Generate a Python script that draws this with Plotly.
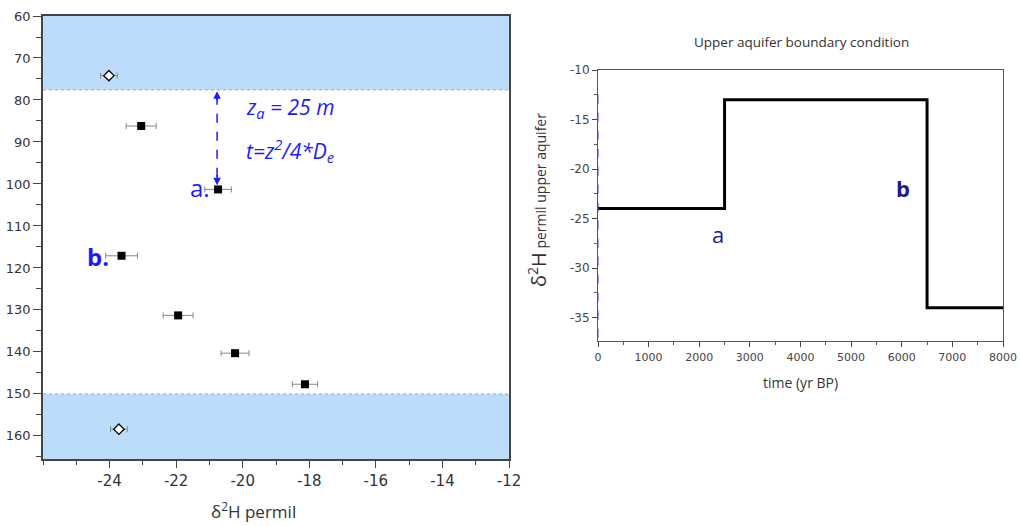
import plotly.graph_objects as go

# ---- Left panel data ----
sq_x = [-23.05, -20.74, -23.64, -21.94, -20.23, -18.13]
sq_depth = [86.2, 101.3, 117.1, 131.3, 140.3, 147.7]
sq_err = [0.45, 0.40, 0.48, 0.45, 0.42, 0.38]
dia_x = [-24.02, -23.72]
dia_depth = [74.2, 158.4]
dia_err = [0.25, 0.25]
band_top = [60, 77.6]
band_bottom = [150.0, 165.5]
left_xticks = [-24, -22, -20, -18, -16, -14, -12]
left_xticktext = ["-24", "-22", "-20", "-18", "-16", "-14", "-12"]
left_yticks = [60, 70, 80, 90, 100, 110, 120, 130, 140, 150, 160]

# ---- Right panel data ----
time_bp = [0, 2500, 6500, 8000]
d2h_upper = [-24, -13, -34, -34]
right_xticks = [0, 1000, 2000, 3000, 4000, 5000, 6000, 7000, 8000]
right_yticks = [-10, -15, -20, -25, -30, -35]
right_yticktext = ["-10", "-15", "-20", "-25", "-30", "-35"]

TICKFONT = dict(family="DejaVu Sans", size=13, color="#333")
BLUE = "#1a1aff"
NAVY = "#1c1c8c"

fig = go.Figure()

fig.add_trace(go.Scatter(
    x=sq_x, y=sq_depth, mode="markers",
    marker=dict(symbol="square", size=8, color="black"),
    error_x=dict(type="data", array=sq_err, color="#888", thickness=1, width=3),
    xaxis="x", yaxis="y", showlegend=False))
fig.add_trace(go.Scatter(
    x=dia_x, y=dia_depth, mode="markers",
    marker=dict(symbol="diamond", size=8, color="white", line=dict(color="black", width=1.3)),
    error_x=dict(type="data", array=dia_err, color="#888", thickness=1, width=3),
    xaxis="x", yaxis="y", showlegend=False))

fig.add_trace(go.Scatter(
    x=time_bp, y=d2h_upper, mode="lines", line=dict(color="black", width=3, shape="hv"),
    xaxis="x2", yaxis="y2", showlegend=False))

shapes = []
for y0, y1 in [band_top, band_bottom]:
    shapes.append(dict(type="rect", xref="x domain", yref="y", x0=0, x1=1, y0=y0, y1=y1,
                       fillcolor="#bcdcfb", line=dict(width=0), layer="below"))
shapes.append(dict(type="line", xref="x domain", yref="y", x0=0, x1=1, y0=band_top[1], y1=band_top[1],
                   line=dict(color="#aaa", width=1, dash="dot")))
shapes.append(dict(type="line", xref="x domain", yref="y", x0=0, x1=1, y0=band_bottom[0], y1=band_bottom[0],
                   line=dict(color="#aaa", width=1, dash="dot")))
# dashed arrow shaft
shapes.append(dict(type="line", xref="x", yref="y", x0=-20.77, x1=-20.77, y0=79.0, y1=99.0,
                   line=dict(color=BLUE, width=1.5, dash="dash")))
# blue dashed overlay on right y axis
shapes.append(dict(type="line", xref="x2", yref="y2", x0=0, x1=0, y0=-12.5, y1=-37.4,
                   line=dict(color="#3a3aff", width=1, dash="dash")))
fig.update_layout(shapes=shapes)

ann = []
ann.append(dict(x=-20.77, y=77.9, ax=-20.77, ay=80.5, xref="x", yref="y", axref="x", ayref="y",
                text="", showarrow=True, arrowhead=2, arrowsize=1, arrowwidth=1.5, arrowcolor=BLUE))
ann.append(dict(x=-20.77, y=100.3, ax=-20.77, ay=97.5, xref="x", yref="y", axref="x", ayref="y",
                text="", showarrow=True, arrowhead=2, arrowsize=1, arrowwidth=1.5, arrowcolor=BLUE))
ann.append(dict(x=-19.95, y=82.0, xref="x", yref="y", xanchor="left", yanchor="middle", showarrow=False,
                text="<i>z<sub>a</sub> = 25 m</i>", font=dict(family="Open Sans", size=21, color=BLUE)))
ann.append(dict(x=-19.95, y=92.0, xref="x", yref="y", xanchor="left", yanchor="middle", showarrow=False,
                text="<i>t=z<sup>2</sup>/4*D<sub>e</sub></i>", font=dict(family="Open Sans", size=21, color=BLUE)))
ann.append(dict(x=-20.93, y=100.8, xref="x", yref="y", xanchor="right", yanchor="middle", showarrow=False,
                text="a.", font=dict(family="Open Sans", size=24, color=BLUE)))
ann.append(dict(x=-23.97, y=117.3, xref="x", yref="y", xanchor="right", yanchor="middle", showarrow=False,
                text="<b>b.</b>", font=dict(family="Open Sans", size=24, color=BLUE)))
ann.append(dict(x=253 / 1020, y=(526 - 510) / 526, xref="paper", yref="paper", showarrow=False,
                xanchor="center", yanchor="middle",
                text="δ<sup>2</sup>H permil", font=dict(family="Open Sans", size=17, color="#333")))
# right panel texts
ann.append(dict(x=801 / 1020, y=(526 - 42) / 526, xref="paper", yref="paper", showarrow=False,
                xanchor="center", yanchor="middle",
                text="Upper aquifer boundary condition", font=dict(family="Open Sans", size=13.5, color="#333")))
ann.append(dict(x=800 / 1020, y=(526 - 382) / 526, xref="paper", yref="paper", showarrow=False,
                xanchor="center", yanchor="middle",
                text="time (yr BP)", font=dict(family="Open Sans", size=14, color="#333")))
ann.append(dict(x=537 / 1020, y=(526 - 200) / 526, xref="paper", yref="paper", showarrow=False,
                xanchor="center", yanchor="middle", textangle=-90,
                text="δ<sup>2</sup>H<span style='font-size:14px'> permil upper aquifer</span>",
                font=dict(family="Open Sans", size=20, color="#333")))
ann.append(dict(x=2370, y=-26.6, xref="x2", yref="y2", showarrow=False, xanchor="center", yanchor="middle",
                text="a", font=dict(family="Open Sans", size=22, color=NAVY)))
ann.append(dict(x=6030, y=-21.9, xref="x2", yref="y2", showarrow=False, xanchor="center", yanchor="middle",
                text="<b>b</b>", font=dict(family="Open Sans", size=22, color=NAVY)))
fig.update_layout(annotations=ann)

axcommon = dict(showgrid=False, zeroline=False, showline=True, mirror=True, linecolor="#444", linewidth=1.5,
                ticks="outside", tickcolor="#444", tickwidth=1.2, automargin=False)

fig.update_layout(
    width=1020, height=526,
    margin=dict(l=0, r=0, t=0, b=0, autoexpand=False),
    paper_bgcolor="white", plot_bgcolor="white",
    xaxis=dict(domain=[43 / 1020, 509 / 1020], range=[-26, -12], tickvals=left_xticks,
               ticktext=left_xticktext, ticklen=7, tickfont=dict(family="DejaVu Sans", size=15, color="#333"),
               minor=dict(ticks="outside", dtick=1, ticklen=4, tickcolor="#444"),
               anchor="y", **axcommon),
    yaxis=dict(domain=[(526 - 459) / 526, (526 - 16) / 526], range=[165.5, 60], tickvals=left_yticks,
               ticklen=8, tickfont=TICKFONT,
               minor=dict(ticks="outside", dtick=5, ticklen=5, tickcolor="#444"),
               anchor="x", **axcommon),
    xaxis2=dict(domain=[598 / 1020, 1003 / 1020], range=[0, 8000], tickvals=right_xticks,
                ticklen=5, tickfont=dict(family="DejaVu Sans", size=11, color="#444"),
                minor=dict(ticks="outside", dtick=500, ticklen=3, tickcolor="#555"),
                anchor="y2", **{**axcommon, "linecolor": "#555", "linewidth": 1}),
    yaxis2=dict(domain=[(526 - 341.3) / 526, (526 - 70) / 526], range=[-37.4, -10], tickvals=right_yticks,
                ticktext=right_yticktext, ticklen=5, tickfont=dict(family="DejaVu Sans", size=12, color="#444"),
                minor=dict(ticks="outside", dtick=2.5, ticklen=3, tickcolor="#555"),
                anchor="x2", **{**axcommon, "linecolor": "#555", "linewidth": 1}),
)

fig.write_html("out.html")
